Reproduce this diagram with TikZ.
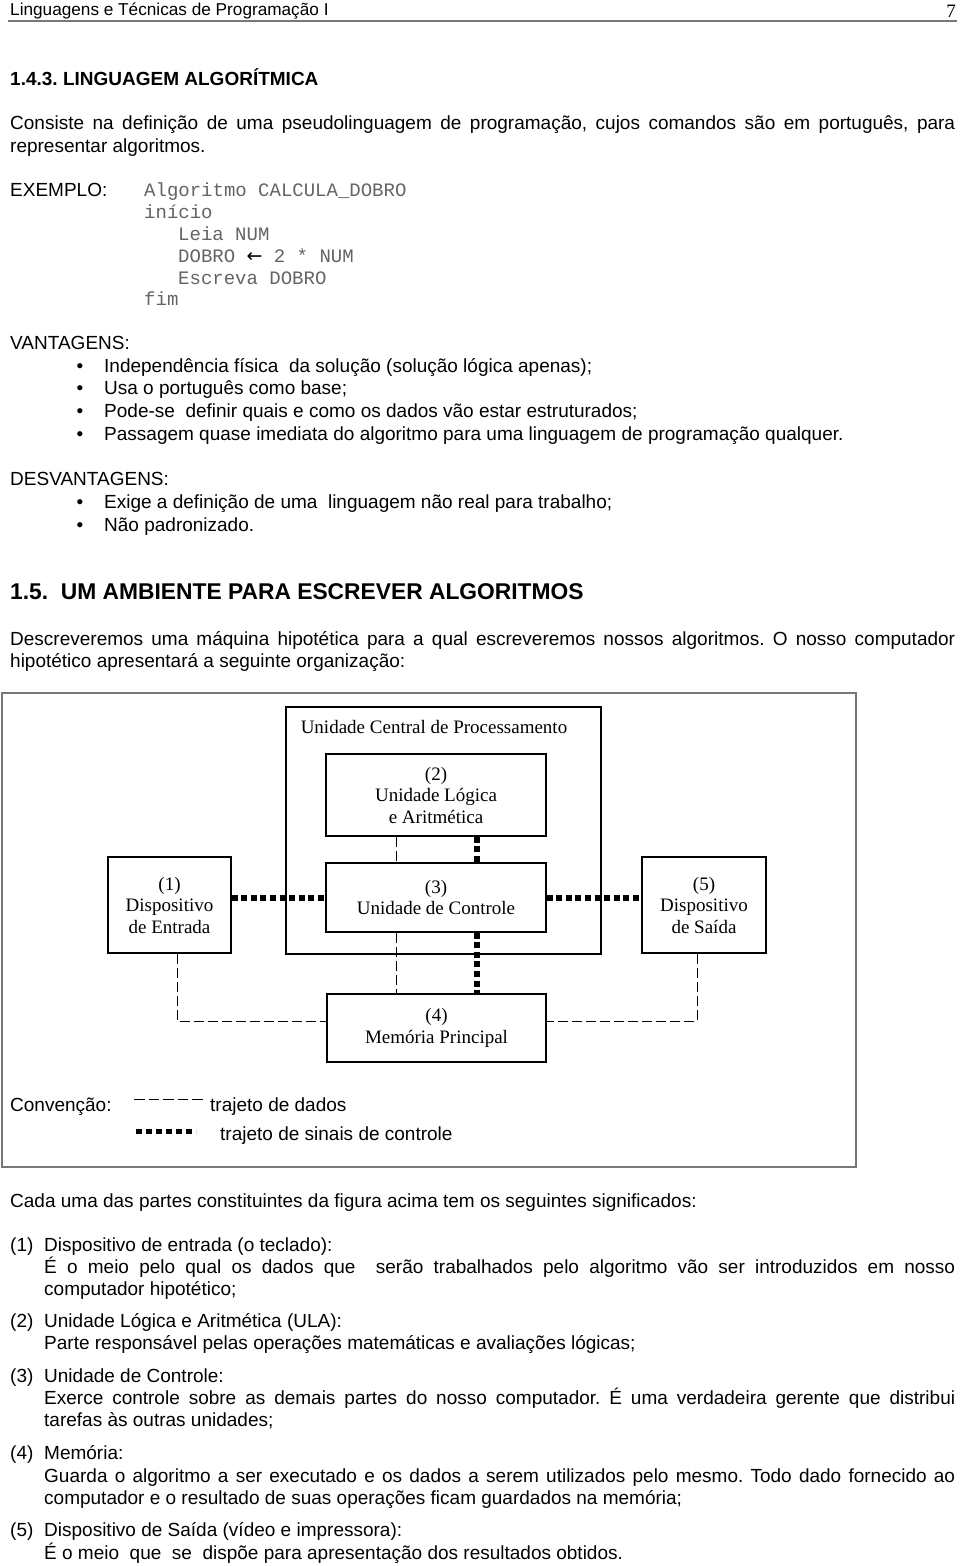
\documentclass[tikz,border=0pt]{standalone}
\usepackage{fontspec}
\setmainfont{Liberation Sans}
\newfontfamily\timesf{Liberation Serif}
\newfontfamily\monof{Liberation Mono}
\newfontfamily\dejavu{DejaVu Sans}
\definecolor{codegray}{RGB}{100,100,100}
\definecolor{framegray}{RGB}{120,120,120}
\frenchspacing
\begin{document}
\begin{tikzpicture}[x=1pt,y=-1pt,
  txt/.style={anchor=mid west,inner sep=0pt,yshift=-4pt,font=\fontsize{19}{22}\selectfont},
  codeln/.style={anchor=mid west,inner sep=0pt,yshift=-4pt,font=\monof\fontsize{19}{22}\selectfont,text=codegray},
  bul/.style={anchor=mid,inner sep=0pt,yshift=-4pt,font=\fontsize{19}{22}\selectfont},
  headln/.style={anchor=mid west,inner sep=0pt,yshift=-4pt,font=\bfseries\fontsize{19}{22}\selectfont},
  box/.style={draw,line width=1.3pt,inner sep=0pt,align=center,font=\timesf\fontsize{19}{21.5}\selectfont},
  data/.style={line width=1pt,dash pattern=on 10pt off 4pt},
  ctrl/.style={line width=6pt,dash pattern=on 6pt off 3.6pt},
]
\useasboundingbox (0,0) rectangle (960,1566);
\fill[white] (0,0) rectangle (960,1566);

% header
\node[txt,font=\fontsize{17.2}{20}\selectfont,yshift=1pt] (hdr) at (10,10) {Linguagens e Técnicas de Programação I};
\node[anchor=base east,inner sep=0pt,font=\timesf\fontsize{19}{22}\selectfont] (pg) at (956,17) {7};
\coordinate (rulea) at (8,21);
\coordinate (ruleb) at (957,21);
\draw[framegray,line width=2pt] (rulea) -- (ruleb);

% section 1.4.3
\node[headln] (h143) at (10,79) {1.4.3. LINGUAGEM ALGORÍTMICA};
\node[txt] (p1a) at (10,123) {\makebox[945pt][s]{Consiste na definição de uma pseudolinguagem de programação, cujos comandos são em português, para}};
\node[txt] (p1b) at (10,146) {representar algoritmos.};

\node[txt] (ex) at (10,190) {EXEMPLO:};
\node[codeln] (c1) at (144,190) {Algoritmo CALCULA\_DOBRO};
\node[codeln] (c2) at (144,212) {início};
\node[codeln] (c3) at (178,234) {Leia NUM};
\node[codeln] (c4) at (178,256) {DOBRO {\dejavu\color{black}←} 2 * NUM};
\node[codeln] (c5) at (178,278) {Escreva DOBRO};
\node[codeln] (c6) at (144,299) {fim};

\node[txt] (vant) at (10,343) {VANTAGENS:};
\node[bul] (b1) at (80,366) {•};
\node[txt] (v1) at (104,366) {Independência física \ da solução (solução lógica apenas);};
\node[bul] (b2) at (80,388) {•};
\node[txt] (v2) at (104,388) {Usa o português como base;};
\node[bul] (b3) at (80,411) {•};
\node[txt] (v3) at (104,411) {Pode-se \ definir quais e como os dados vão estar estruturados;};
\node[bul] (b4) at (80,434) {•};
\node[txt] (v4) at (104,434) {Passagem quase imediata do algoritmo para uma linguagem de programação qualquer.};

\node[txt] (desv) at (10,479) {DESVANTAGENS:};
\node[bul] (b5) at (80,502) {•};
\node[txt] (d1) at (104,502) {Exige a definição de uma \ linguagem não real para trabalho;};
\node[bul] (b6) at (80,525) {•};
\node[txt] (d2) at (104,525) {Não padronizado.};

% section 1.5
\node[headln,font=\bfseries\fontsize{22.8}{26}\selectfont] (h15) at (10,593) {1.5. \ UM AMBIENTE PARA ESCREVER ALGORITMOS};
\node[txt] (p2a) at (10,639) {\makebox[945pt][s]{Descreveremos uma máquina hipotética para a qual escreveremos nossos algoritmos. O nosso computador}};
\node[txt] (p2b) at (10,661) {hipotético apresentará a seguinte organização:};

% diagram
\node[draw=framegray,line width=1.5pt,minimum width=854pt,minimum height=474pt,inner sep=0pt] (frame) at (429,930) {};
\node[draw,line width=1.3pt,minimum width=315pt,minimum height=247pt,inner sep=0pt] (cpu) at (443.5,830.5) {};
\node[inner sep=0pt,font=\timesf\fontsize{19}{21.5}\selectfont] (cpulbl) at (434,727) {Unidade Central de Processamento};
\node[box,minimum width=220pt,minimum height=82pt] (ula) at (436,795) {(2)\\Unidade Lógica\\e Aritmética};
\node[box,minimum width=220pt,minimum height=69pt] (uc) at (436,897.5) {(3)\\Unidade de Controle};
\node[box,minimum width=123pt,minimum height=96pt] (ent) at (169.5,905) {(1)\\Dispositivo\\de Entrada};
\node[box,minimum width=124pt,minimum height=96pt] (sai) at (704,905) {(5)\\Dispositivo\\de Saída};
\node[box,minimum width=219pt,minimum height=68pt] (mem) at (436.5,1028) {(4)\\Memória Principal};

\coordinate (dx) at (396,0);
\coordinate (cx) at (477,0);
\coordinate (cy) at (0,898);
\coordinate (ex1) at (177,1021);
\coordinate (sx1) at (697,1021);

\draw[data] (ula.south -| dx) -- (uc.north -| dx);
\draw[data] (uc.south -| dx) -- (mem.north -| dx);
\draw[data] (ent.south -| ex1) -- (ex1) -- (mem.west |- ex1);
\draw[data] (sai.south -| sx1) -- (sx1) -- (mem.east |- sx1);
\draw[ctrl] (ula.south -| cx) -- (uc.north -| cx);
\draw[ctrl] (uc.south -| cx) -- (mem.north -| cx);
\draw[ctrl] (ent.east |- cy) -- (uc.west |- cy);
\draw[ctrl] (uc.east |- cy) -- (sai.west |- cy);

% legend
\node[txt] (conv) at (10,1105) {Convenção:};
\coordinate (l1a) at (134,1099);
\coordinate (l1b) at (205,1099);
\draw[line width=1pt,dash pattern=on 10.5pt off 4pt] (l1a) -- (l1b);
\node[txt] (l1t) at (210,1105) {trajeto de dados};
\coordinate (l2a) at (136,1131);
\coordinate (l2b) at (196,1131);
\draw[line width=5pt,dash pattern=on 6pt off 4pt] (l2a) -- (l2b);
\node[txt] (l2t) at (220,1134) {trajeto de sinais de controle};

% explanations
\node[txt] (cada) at (10,1201) {Cada uma das partes constituintes da figura acima tem os seguintes significados:};
\node[txt] (n1) at (10,1245) {(1)};
\node[txt] (t1a) at (44,1245) {Dispositivo de entrada (o teclado):};
\node[txt] (t1b) at (44,1267) {\makebox[911pt][s]{É o meio pelo qual os dados que \ serão trabalhados pelo algoritmo vão ser introduzidos em nosso}};
\node[txt] (t1c) at (44,1289) {computador hipotético;};
\node[txt] (n2) at (10,1321) {(2)};
\node[txt] (t2a) at (44,1321) {Unidade Lógica e Aritmética (ULA):};
\node[txt] (t2b) at (44,1343) {Parte responsável pelas operações matemáticas e avaliações lógicas;};
\node[txt] (n3) at (10,1376) {(3)};
\node[txt] (t3a) at (44,1376) {Unidade de Controle:};
\node[txt] (t3b) at (44,1398) {\makebox[911pt][s]{Exerce controle sobre as demais partes do nosso computador. É uma verdadeira gerente que distribui}};
\node[txt] (t3c) at (44,1420) {tarefas às outras unidades;};
\node[txt] (n4) at (10,1453) {(4)};
\node[txt] (t4a) at (44,1453) {Memória:};
\node[txt] (t4b) at (44,1476) {\makebox[911pt][s]{Guarda o algoritmo a ser executado e os dados a serem utilizados pelo mesmo. Todo dado fornecido ao}};
\node[txt] (t4c) at (44,1498) {computador e o resultado de suas operações ficam guardados na memória;};
\node[txt] (n5) at (10,1530) {(5)};
\node[txt] (t5a) at (44,1530) {Dispositivo de Saída (vídeo e impressora):};
\node[txt] (t5b) at (44,1553) {É o meio \ que \ se \ dispõe para apresentação dos resultados obtidos.};
\end{tikzpicture}
\end{document}
